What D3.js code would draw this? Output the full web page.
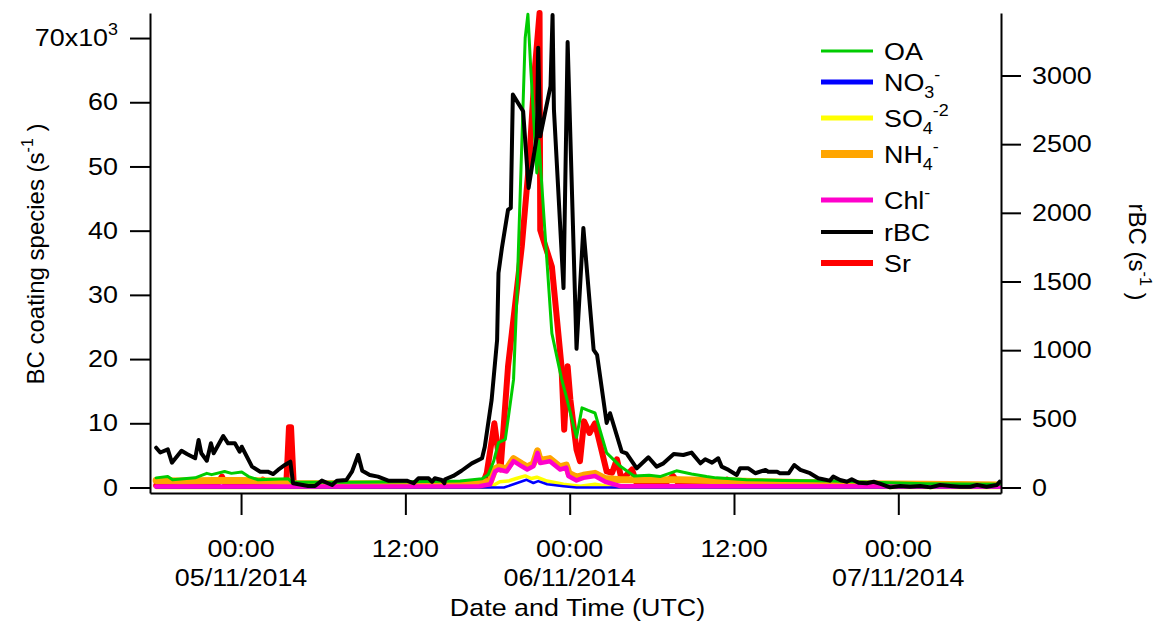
<!DOCTYPE html>
<html>
<head>
<meta charset="utf-8">
<script src="https://cdn.jsdelivr.net/npm/d3@7"></script>
<style>
  body { margin: 0; background: #fff; }
</style>
</head>
<body>
<div id="chart"></div>
<script>
// time = hours since 05/11/2014 00:00 UTC
// rBC in s-1 (right axis), everything else in 10^3 s-1 (left axis)
const rbc = [[-6.2,290],[-5.9,255],[-5.35,278],[-5.05,181],[-4.35,268],[-3.95,244],[-3.35,213],[-3.1,346],[-2.9,249],[-2.5,195],[-2.2,322],[-2.0,249],[-1.3,375],[-0.95,322],[-0.45,322],[-0.1,261],[0.05,297],[0.8,152],[1.4,115],[1.95,115],[2.35,98],[2.7,128],[3.2,164],[3.6,188],[3.8,31],[4.9,11],[5.4,11],[5.9,50],[6.35,31],[6.65,18],[7.0,50],[7.7,55],[8.1,115],[8.55,237],[8.85,122],[9.4,91],[10.0,79],[10.75,50],[11.4,50],[12.1,50],[12.6,31],[12.95,67],[13.7,67],[13.95,42],[14.15,67],[14.65,55],[14.85,31],[14.9,60],[15.5,84],[16.1,122],[16.85,176],[17.6,213],[17.8,297],[18.3,638],[18.7,1075],[18.8,1562],[19.05,1744],[19.5,2023],[19.7,2035],[19.85,2861],[20.6,2740],[21.0,2181],[21.6,2557],[21.7,3202],[21.85,2557],[22.6,2922],[22.75,3440],[22.85,2752],[23.55,1452],[23.85,3243],[24.5,1010],[25.0,1890],[25.75,1002],[26.0,966],[26.7,470],[26.95,541],[27.8,261],[28.15,249],[28.9,140],[29.75,220],[30.35,152],[30.85,176],[31.6,244],[32.3,237],[32.9,254],[33.55,176],[33.9,206],[34.4,181],[34.85,213],[35.1,152],[35.6,128],[36.2,91],[36.45,140],[37.05,140],[37.55,104],[38.3,128],[38.5,115],[39.15,115],[39.35,104],[40.0,104],[40.4,164],[40.85,128],[41.55,104],[42.15,67],[43.0,50],[43.25,79],[43.75,55],[44.25,42],[44.6,60],[45.1,35],[45.7,31],[46.2,42],[46.7,26],[47.4,1],[48.15,11],[48.85,6],[49.6,11],[50.35,1],[51.05,18],[51.8,11],[52.5,6],[53.25,6],[53.75,18],[54.45,6],[55.2,18],[55.4,42]];

const sr = [[-6.2,0.3],[-1.8,0.3],[-1.4,1.7],[-1.1,0.3],[1.3,0.3],[1.6,1.2],[1.9,0.3],[3.3,0.3],[3.5,9.4],[3.65,9.4],[3.85,0.3],[17.6,0.3],[17.95,2.3],[18.5,10.0],[18.95,2.8],[19.5,18.9],[20.5,37.5],[21.05,51],[21.45,65],[21.8,73.9],[21.85,40.1],[22.7,34.4],[23.4,18.9],[23.6,9.0],[23.85,18.9],[24.05,13.7],[24.5,5.9],[24.75,4.1],[25.05,10.3],[25.45,8.5],[25.85,10.0],[26.7,2.5],[27.1,2.3],[27.45,4.4],[27.8,1.2],[28.55,2.8],[28.9,0.6],[30.9,0.5],[31.55,1.8],[32.0,0.5],[35.2,0.5],[35.5,1.2],[35.8,0.5],[55.4,0.4]];

const oa = [[-6.2,1.5],[-5.35,1.7],[-5.0,1.2],[-3.35,1.5],[-2.5,2.2],[-2.15,2.0],[-1.2,2.5],[-0.7,2.2],[0.05,2.4],[0.55,1.7],[1.25,1.2],[3.45,1.35],[3.7,0.8],[8.0,0.8],[12.0,0.9],[16.0,1.0],[17.6,1.35],[18.05,2.0],[18.45,4.1],[18.8,7.0],[19.3,7.5],[19.9,16.8],[20.15,30.0],[20.45,50.0],[20.75,70.0],[20.95,73.7],[21.15,65.5],[21.6,49.0],[21.75,54.0],[22.2,39.6],[22.7,24.0],[23.4,17.0],[23.75,14.2],[24.5,7.8],[24.9,12.4],[25.35,12.0],[25.85,11.6],[26.7,5.4],[27.7,3.3],[28.7,1.8],[29.8,1.9],[30.6,1.7],[31.8,2.6],[32.9,2.1],[34.0,1.7],[34.7,1.5],[36.9,1.2],[39.6,1.1],[43.2,1.0],[46.0,0.8],[50.0,0.6],[55.4,0.5]];

const nh4 = [[-6.2,1.1],[-4.5,1.0],[-2.0,1.1],[0.0,1.1],[2.0,1.0],[3.6,0.9],[3.9,0.6],[10.0,0.6],[16.5,0.6],[17.6,0.9],[18.2,0.9],[18.55,2.9],[18.8,3.2],[19.4,2.9],[19.9,4.5],[20.5,3.7],[20.9,3.2],[21.35,3.7],[21.65,5.7],[21.85,4.2],[22.55,4.5],[23.3,3.2],[23.75,3.5],[23.95,2.2],[24.5,1.6],[25.0,1.9],[25.85,2.2],[26.6,1.4],[27.7,1.2],[32.0,1.2],[36.0,1.0],[40.0,0.8],[45.0,0.6],[50.0,0.5],[55.4,0.4]];

const chl = [[-6.2,0.15],[17.4,0.2],[18.2,0.5],[18.55,2.5],[18.8,2.8],[19.4,2.5],[19.9,4.1],[20.5,3.3],[20.9,2.8],[21.35,3.3],[21.65,5.4],[21.85,3.8],[22.55,4.1],[23.3,2.8],[23.75,3.1],[23.9,1.8],[24.5,1.1],[25.0,1.5],[25.85,1.8],[26.6,0.9],[27.7,0.2],[55.4,0.15]];

const so4 = [[-6.2,0.0],[17.9,0.05],[18.3,0.2],[18.9,0.9],[19.5,1.0],[20.1,1.4],[20.75,1.8],[21.2,1.4],[21.6,1.6],[22.35,1.0],[23.55,0.5],[24.75,0.2],[25.85,0.5],[27.2,0.05],[55.4,0.0]];

const no3 = [[-6.2,0.0],[19.2,0.0],[19.9,0.5],[20.85,1.2],[21.35,0.7],[21.7,1.0],[22.35,0.5],[23.55,0.2],[24.5,0.0],[55.4,0.0]];

const leftTicks = [0, 10, 20, 30, 40, 50, 60, 70];
const rightTicks = [0, 500, 1000, 1500, 2000, 2500, 3000];
const timeTicks = [0, 12, 24, 36, 48];
const timeLabel1 = ["00:00", "12:00", "00:00", "12:00", "00:00"];
const timeLabel2 = ["05/11/2014", "", "06/11/2014", "", "07/11/2014"];

const T0 = Date.UTC(2014, 10, 5);
const toDate = h => new Date(T0 + h * 3600e3);

const W = 1163, H = 624;
const plot = {left: 150, right: 1001, top: 13, bottom: 493};
const SX = 1.12; // glyphs in the figure are a bit wider than Arial
const FONT = '"Liberation Sans", Arial, Helvetica, sans-serif';

const svg = d3.select("#chart").append("svg")
    .attr("width", W).attr("height", H)
    .style("font-family", FONT);

const x = d3.scaleUtc()
    .domain([toDate(-6.65), toDate(55.5)])
    .range([plot.left, plot.right]);
const yL = d3.scaleLinear().domain([-0.857, 73.9]).range([plot.bottom, plot.top]);
const yR = d3.scaleLinear().domain([-40, 3455]).range([plot.bottom, plot.top]);

// horizontal-stretch helper for text
function wide(sel) {
    sel.each(function () {
        const t = d3.select(this);
        const tx = +t.attr("x") || 0, ty = +t.attr("y") || 0;
        t.attr("x", 0).attr("y", 0).attr("transform", `translate(${tx},${ty}) scale(${SX},1)`);
    });
}

// series, drawn in this order (black on top)
const series = [
    {data: sr,  color: "#ff0000", width: 6,   axis: yL},
    {data: nh4, color: "#ffa500", width: 7,   axis: yL},
    {data: so4, color: "#ffff00", width: 3.5, axis: yL},
    {data: no3, color: "#0000ff", width: 2.5, axis: yL},
    {data: chl, color: "#ff00cc", width: 4.5, axis: yL},
    {data: oa,  color: "#00cc00", width: 3,   axis: yL},
    {data: rbc, color: "#000000", width: 4,   axis: yR}
];

svg.append("clipPath").attr("id", "clip")
    .append("rect").attr("x", plot.left).attr("y", 0)
    .attr("width", plot.right - plot.left).attr("height", plot.bottom);

const lines = svg.append("g").attr("clip-path", "url(#clip)");
series.forEach(s => {
    const line = d3.line()
        .x(d => x(toDate(d[0])))
        .y(d => s.axis(d[1]));
    lines.append("path")
        .datum(s.data)
        .attr("d", line)
        .attr("fill", "none")
        .attr("stroke", s.color)
        .attr("stroke-width", s.width)
        .attr("stroke-linejoin", "round")
        .attr("stroke-linecap", "round");
});

// axes
function styleAxis(g) {
    g.attr("font-family", FONT).attr("font-size", 24);
    g.select(".domain").attr("stroke-width", 2);
    g.selectAll(".tick line").attr("stroke-width", 2);
    g.selectAll(".tick text").attr("fill", "#000");
}

const gL = svg.append("g")
    .attr("transform", `translate(${plot.left},0)`)
    .call(d3.axisLeft(yL).tickValues(leftTicks).tickSize(20).tickSizeOuter(0).tickPadding(12)
        .tickFormat(d => d === 70 ? "" : d))
    .call(styleAxis);
gL.selectAll(".tick text").call(wide);
// top label 70x10^3
const topTick = gL.selectAll(".tick").filter(d => d === 70).select("text");
topTick.append("tspan").text("70x10");
topTick.append("tspan").attr("dy", -11).attr("font-size", 16).text("3");

const gR = svg.append("g")
    .attr("transform", `translate(${plot.right},0)`)
    .call(d3.axisRight(yR).tickValues(rightTicks).tickSize(20).tickSizeOuter(0).tickPadding(11)
        .tickFormat(d3.format("d")))
    .call(styleAxis);
gR.selectAll(".tick text").call(wide);

const gB = svg.append("g")
    .attr("transform", `translate(0,${plot.bottom})`)
    .call(d3.axisBottom(x).tickValues(timeTicks.map(toDate)).tickSize(22).tickSizeOuter(0).tickFormat(""))
    .call(styleAxis);

const tl = svg.append("g").attr("font-size", 24).attr("text-anchor", "middle");
timeTicks.forEach((h, i) => {
    tl.append("text").attr("x", x(toDate(h))).attr("y", 557).text(timeLabel1[i]);
    if (timeLabel2[i]) tl.append("text").attr("x", x(toDate(h))).attr("y", 586).text(timeLabel2[i]);
});
tl.append("text").attr("x", (plot.left + plot.right) / 2 + 2).attr("y", 616).text("Date and Time (UTC)");
tl.selectAll("text").call(wide);

// axis titles
const lt = svg.append("text")
    .attr("transform", "translate(44,254) rotate(-90)")
    .attr("text-anchor", "middle").attr("font-size", 24);
lt.append("tspan").text("BC coating species (s");
lt.append("tspan").attr("dy", -11).attr("font-size", 16).text("-1");
lt.append("tspan").attr("dy", 11).text(" )");

const rt = svg.append("text")
    .attr("transform", "translate(1129,252) rotate(90)")
    .attr("text-anchor", "middle").attr("font-size", 24);
rt.append("tspan").text("rBC (s");
rt.append("tspan").attr("dy", -11).attr("font-size", 16).text("-1");
rt.append("tspan").attr("dy", 11).text(" )");

// legend
const legendItems = [
    {parts: [["OA", ""]], color: "#00cc00", width: 3, y: 51},
    {parts: [["NO", ""], ["3", "sub"], ["-", "sup"]], color: "#0000ff", width: 5, y: 82},
    {parts: [["SO", ""], ["4", "sub"], ["-2", "sup"]], color: "#ffff00", width: 5, y: 118},
    {parts: [["NH", ""], ["4", "sub"], ["-", "sup"]], color: "#ffa500", width: 8, y: 154},
    {parts: [["Chl", ""], ["-", "sup"]], color: "#ff00cc", width: 5, y: 200},
    {parts: [["rBC", ""]], color: "#000000", width: 4, y: 232},
    {parts: [["Sr", ""]], color: "#ff0000", width: 6, y: 263}
];
const lg = svg.append("g");
legendItems.forEach(it => {
    lg.append("line")
        .attr("x1", 821).attr("x2", 873)
        .attr("y1", it.y).attr("y2", it.y)
        .attr("stroke", it.color).attr("stroke-width", it.width);
    const t = lg.append("text").attr("x", 884).attr("y", it.y + 9).attr("font-size", 24);
    let shift = 0;
    it.parts.forEach(([s, kind]) => {
        const target = kind === "sub" ? 7 : kind === "sup" ? -11 : 0;
        t.append("tspan")
            .attr("dy", target - shift)
            .attr("font-size", kind ? 16 : 24)
            .text(s);
        shift = target;
    });
});
lg.selectAll("text").call(wide);
</script>
</body>
</html>
